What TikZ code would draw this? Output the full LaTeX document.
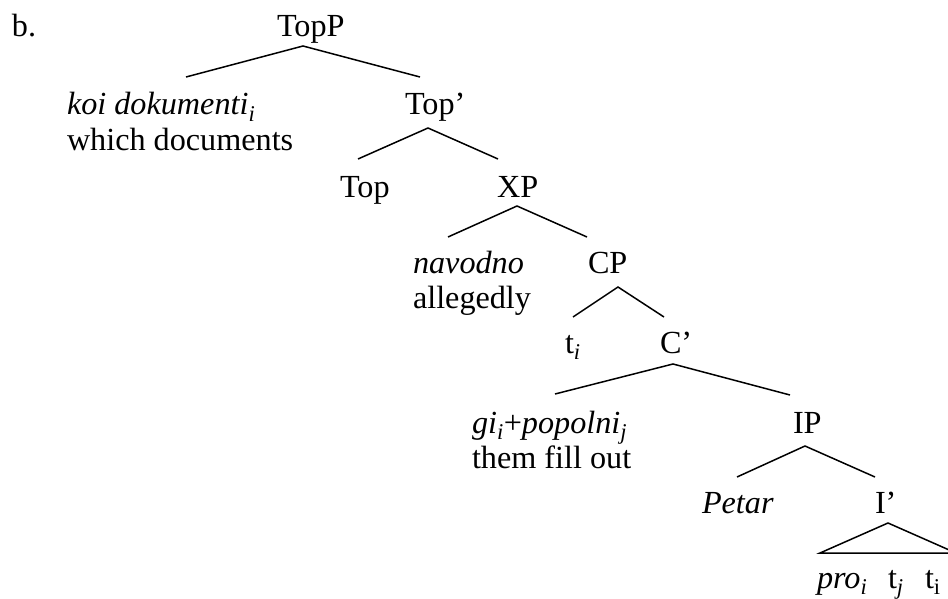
\documentclass[tikz,border=0pt]{standalone}
\usepackage{fontspec}
\setmainfont{Liberation Serif}
\newcommand{\ix}[1]{\textsubscript{\textit{#1}}}
\begin{document}
\begin{tikzpicture}[x=1pt,y=-1pt,
  lbl/.style={anchor=base west, inner sep=0pt, outer sep=0pt,
              font=\fontsize{32.2}{35}\selectfont},
  branch/.style={line width=1.5pt}]
\useasboundingbox (0,0) rectangle (948,599);
\clip (0,0) rectangle (948,599);

% labels
\node[lbl] (ex)     at (12,37)  {b.};
\node[lbl] (topp)   at (277,37) {TopP};
\node[lbl] (koi)    at (67,115) {\textit{koi dokumenti}\ix{i}};
\node[lbl] (koigl)  at (67,150) {which documents};
\node[lbl] (topbar) at (405,115) {Top’};
\node[lbl] (top)    at (340,197) {Top};
\node[lbl] (xp)     at (497,197) {XP};
\node[lbl] (nav)    at (413,273) {\textit{navodno}};
\node[lbl] (navgl)  at (413,308) {allegedly};
\node[lbl] (cp)     at (588,273) {CP};
\node[lbl] (ti)     at (565,353) {t\ix{i}};
\node[lbl] (cbar)   at (660,353) {C’};
\node[lbl] (gi)     at (472,433) {\textit{gi}\ix{i}+\textit{popolni}\ix{j}};
\node[lbl] (gigl)   at (472,468) {them fill out};
\node[lbl] (ip)     at (793,433) {IP};
\node[lbl] (petar)  at (702,513) {\textit{Petar}};
\node[lbl] (ibar)   at (875,513) {I’};
\node[lbl] (pro)    at (817,588) {\textit{pro}\ix{i}};
\node[lbl] (tj)     at (888,588) {t\ix{j}};
\node[lbl] (tii)    at (925,588) {t\textsubscript{i}};

% branch points
\coordinate (toppA) at (303,46);
\coordinate (toppL) at (186,77);
\coordinate (toppR) at (420,77);
\coordinate (topbarA) at (428,128);
\coordinate (topbarL) at (358,159);
\coordinate (topbarR) at (498,159);
\coordinate (xpA) at (517,206);
\coordinate (xpL) at (448,237);
\coordinate (xpR) at (587,237);
\coordinate (cpA) at (618,287);
\coordinate (cpL) at (573,317);
\coordinate (cpR) at (664,317);
\coordinate (cbarA) at (673,364);
\coordinate (cbarL) at (555,394);
\coordinate (cbarR) at (790,395);
\coordinate (ipA) at (805,446);
\coordinate (ipL) at (737,477);
\coordinate (ipR) at (875,477);
\coordinate (ibarA) at (888,523);
\coordinate (ibarL) at (820,553);
\coordinate (ibarR) at (956,553);

% branches
\draw[branch] (toppL) -- (toppA) -- (toppR);
\draw[branch] (topbarL) -- (topbarA) -- (topbarR);
\draw[branch] (xpL) -- (xpA) -- (xpR);
\draw[branch] (cpL) -- (cpA) -- (cpR);
\draw[branch] (cbarL) -- (cbarA) -- (cbarR);
\draw[branch] (ipL) -- (ipA) -- (ipR);
\draw[branch] (ibarL) -- (ibarA) -- (ibarR) -- cycle;
\end{tikzpicture}
\end{document}
